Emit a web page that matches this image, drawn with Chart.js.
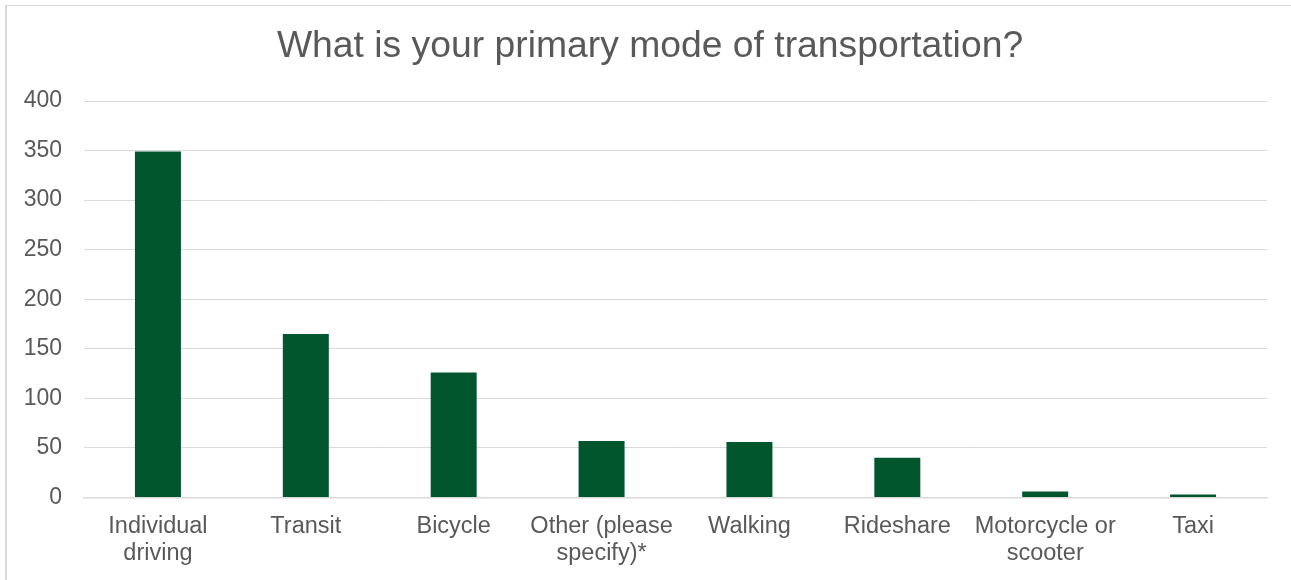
<!DOCTYPE html>
<html>
<head>
<meta charset="utf-8">
<script src="https://cdn.jsdelivr.net/npm/chart.js@4.4.0/dist/chart.umd.min.js"></script>
<style>
  html, body { margin: 0; padding: 0; background: #ffffff; }
  #wrap { position: relative; width: 1291px; height: 580px; overflow: hidden; }
  #frame { position: absolute; left: 5px; top: 5px; width: 1400px; height: 700px;
           border-left: 2px solid #d9d9d9; border-top: 1px solid #d9d9d9; box-sizing: border-box; }
  canvas { position: absolute; left: 0; top: 0; }
  #title { position: absolute; left: 150px; width: 1000px; top: 25.7px; text-align: center;
           font-family: 'Liberation Sans', Arial, Helvetica, sans-serif; font-size: 37.3px;
           line-height: 37.3px; color: #595959; white-space: nowrap; margin: 0; font-weight: normal; }
</style>
</head>
<body>
<div id="wrap">
  <div id="frame"></div>
  <canvas id="c" width="1291" height="580"></canvas>
  <div id="title"></div>
</div>
<script>
const titleText = "What is your primary mode of transportation?";
const categories = [
  ["Individual", "driving"],
  "Transit",
  "Bicycle",
  ["Other (please", "specify)*"],
  "Walking",
  "Rideshare",
  ["Motorcycle or", "scooter"],
  "Taxi"
];
const counts = [349, 165, 126, 57, 56, 40, 6, 3];
const yMin = 0, yMax = 400, yStep = 50;

const FONT = "'Liberation Sans', Arial, Helvetica, sans-serif";
const TEXT = "#595959";
const GRID = "#d9d9d9";

document.getElementById("title").textContent = titleText;

new Chart(document.getElementById("c"), {
  type: "bar",
  data: {
    labels: categories,
    datasets: [{
      data: counts,
      backgroundColor: "#01562e",
      borderWidth: 0,
      categoryPercentage: 1.0,
      barPercentage: 0.311
    }]
  },
  options: {
    responsive: false,
    animation: false,
    layout: { padding: { top: 101, left: 0, right: 24, bottom: 0 } },
    plugins: {
      legend: { display: false },
      tooltip: { enabled: false },
      title: { display: false }
    },
    scales: {
      x: {
        grid: { display: false, drawTicks: false },
        border: { display: true, color: GRID, width: 1.5 },
        ticks: {
          color: TEXT,
          font: { family: FONT, size: 23.5, lineHeight: 1.16 },
          padding: 15,
          maxRotation: 0,
          autoSkip: false
        },
        afterFit: (s) => { s.height = 82.5; }
      },
      y: {
        min: yMin,
        max: yMax,
        grid: { color: GRID, lineWidth: 1, drawTicks: false },
        border: { display: false },
        ticks: {
          stepSize: yStep,
          color: TEXT,
          font: { family: FONT, size: 23 },
          padding: 22
        },
        afterFit: (s) => { s.width = 84; }
      }
    }
  }
});
</script>
</body>
</html>
